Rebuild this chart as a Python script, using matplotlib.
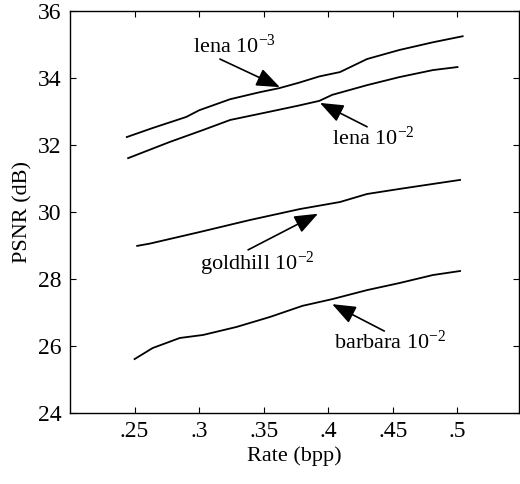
import matplotlib
import matplotlib.pyplot as plt

matplotlib.use('Agg')

plt.rcParams['font.family'] = ['Liberation Serif', 'DejaVu Serif']
plt.rcParams['mathtext.fontset'] = 'custom'
plt.rcParams['mathtext.rm'] = 'Liberation Serif'
plt.rcParams['mathtext.it'] = 'Liberation Serif:italic'

# rate (bpp) / psnr (dB)
lena3_x = [0.244, 0.264, 0.290, 0.300, 0.324, 0.347, 0.362, 0.377, 0.393,
           0.409, 0.430, 0.455, 0.481, 0.504]
lena3_y = [32.24, 32.51, 32.84, 33.04, 33.37, 33.58, 33.70, 33.86, 34.05,
           34.18, 34.57, 34.84, 35.07, 35.25]

lena2_x = [0.245, 0.277, 0.303, 0.324, 0.355, 0.377, 0.393, 0.403, 0.430,
           0.455, 0.481, 0.500]
lena2_y = [31.61, 32.09, 32.45, 32.75, 33.00, 33.18, 33.32, 33.50, 33.79,
           34.03, 34.24, 34.33]

gold_x = [0.252, 0.262, 0.300, 0.339, 0.378, 0.409, 0.430, 0.455, 0.481, 0.502]
gold_y = [28.99, 29.06, 29.40, 29.76, 30.09, 30.30, 30.54, 30.69, 30.84, 30.96]

barb_x = [0.250, 0.264, 0.285, 0.303, 0.329, 0.355, 0.380, 0.403, 0.430,
          0.455, 0.481, 0.502]
barb_y = [25.61, 25.94, 26.24, 26.33, 26.57, 26.87, 27.20, 27.40, 27.67,
          27.88, 28.12, 28.24]

x_ticks = [0.25, 0.3, 0.35, 0.4, 0.45, 0.5]
x_tick_labels = ['.25', '.3', '.35', '.4', '.45', '.5']
y_ticks = [24, 26, 28, 30, 32, 34, 36]

fig = plt.figure(figsize=(5.2, 4.84), dpi=100)
ax = fig.add_axes([0.1346, 0.1467, 0.8644, 0.8303])

for xs, ys in [(lena3_x, lena3_y), (lena2_x, lena2_y),
               (gold_x, gold_y), (barb_x, barb_y)]:
    ax.plot(xs, ys, 'k-', lw=1.3)

ax.set_xlim(0.2, 0.548)
ax.set_ylim(24, 36)
ax.set_xticks(x_ticks)
ax.set_xticklabels(x_tick_labels)
ax.set_yticks(y_ticks)
ax.tick_params(direction='in', length=4, width=0.8, labelsize=17,
               top=True, right=True, pad=6)
for s in ax.spines.values():
    s.set_linewidth(1.0)

ax.set_xlabel('Rate (bpp)', fontsize=16, labelpad=3)
ax.set_ylabel('PSNR (dB)', fontsize=16, labelpad=4)


def arrow(rx, ry):
    # arrow tail anchored at a fixed spot of the label box
    return dict(arrowstyle='-|>,head_length=0.9,head_width=0.35',
                color='k', lw=1.2, shrinkA=0, shrinkB=0,
                patchA=None, relpos=(rx, ry))


fs = 16
ax.annotate('lena 10$^{-3}$', xy=(0.3625, 33.73), xytext=(0.327, 34.95),
            fontsize=fs, ha='center', va='center', arrowprops=arrow(0.33, -0.05))
ax.annotate('lena 10$^{-2}$', xy=(0.3935, 33.26), xytext=(0.4345, 32.2),
            fontsize=fs, ha='center', va='center', arrowprops=arrow(0.43, 1.0))
ax.annotate('goldhill 10$^{-2}$', xy=(0.392, 29.95), xytext=(0.345, 28.45),
            fontsize=fs, ha='center', va='center', arrowprops=arrow(0.42, 1.0))
ax.annotate('barbara 10$^{-2}$', xy=(0.403, 27.25), xytext=(0.4477, 26.1),
            fontsize=fs, ha='center', va='center', arrowprops=arrow(0.45, 1.0))

fig.savefig('out.png', dpi=100)
